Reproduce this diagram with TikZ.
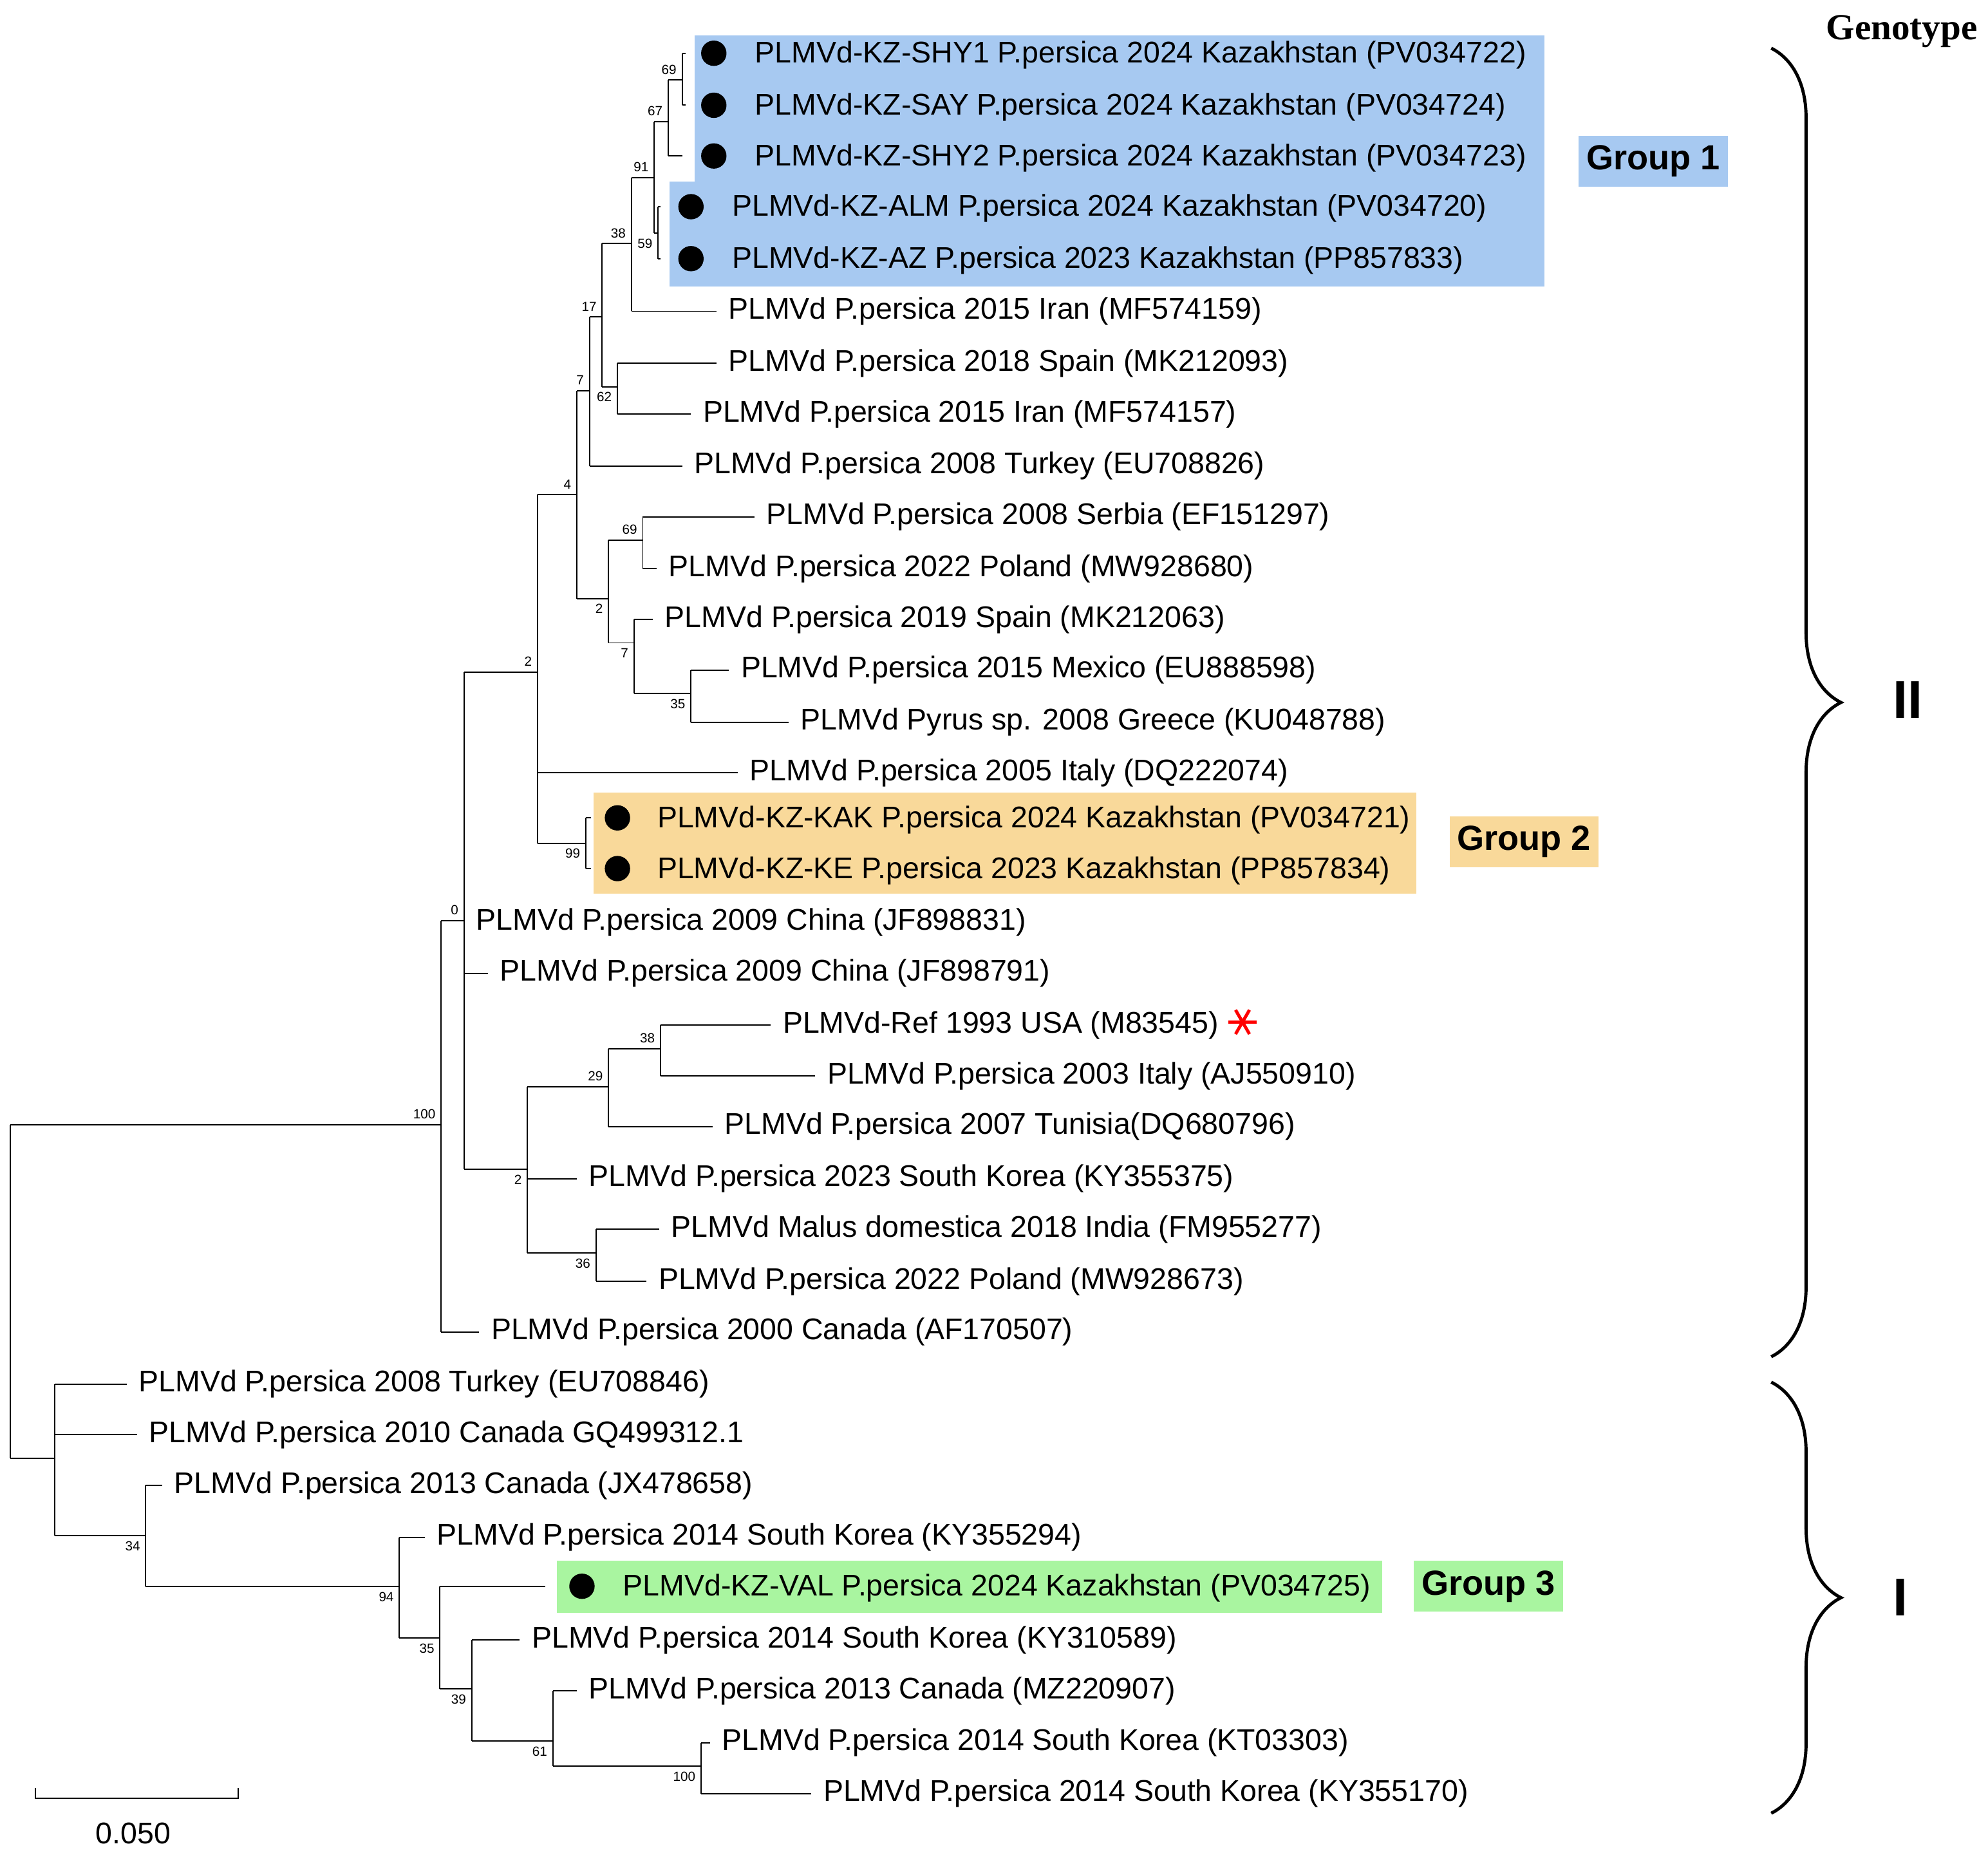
\documentclass[tikz,border=0pt]{standalone}
\usepackage{fontspec}
\setmainfont{Liberation Sans}
\newfontfamily\serifbold{Liberation Serif}
\usetikzlibrary{decorations.pathreplacing}
\definecolor{gone}{RGB}{167,201,241}
\definecolor{gtwo}{RGB}{249,217,154}
\definecolor{gthree}{RGB}{169,245,160}
\newcommand{\hb}[2]{\draw (#1 |- #2) -- (#2);}
\newcommand{\vb}[3]{\draw (#1 |- #2) -- (#1 |- #3);}
\begin{document}
\begin{tikzpicture}[x=1pt,y=-1pt,line width=1pt,
  leaf/.style={anchor=west,inner xsep=9pt,inner ysep=0pt,yshift=-1.5pt,font=\fontsize{23.6}{24}\selectfont},
  txt/.style={anchor=west,inner sep=0pt,yshift=-1.5pt,font=\fontsize{23.6}{24}\selectfont},
  dot/.style={circle,fill=black,minimum size=20pt,inner sep=0pt},
  bsa/.style={anchor=south east,inner sep=4pt,font=\fontsize{10.5}{11}\selectfont},
  bsb/.style={anchor=north east,inner sep=4pt,font=\fontsize{10.5}{11}\selectfont},
  grp/.style={font=\fontsize{27.5}{28}\selectfont\bfseries,minimum height=40pt,inner xsep=6pt},
  gbrace/.style={line width=2.5pt,decorate,decoration={brace,amplitude=55pt,aspect=0.5}}]
\useasboundingbox (0,0) rectangle (1568,1461);
% coloured boxes
\fill[gone] (548,28) rectangle (1218,143);
\fill[gone] (528,143) rectangle (1218,226);
\fill[gtwo] (468,625) rectangle (1117,705);
\fill[gthree] (439,1231) rectangle (1090,1272);
\node[grp,fill=gone] (gl1) at (1304,127) {Group 1};
\node[grp,fill=gtwo] (gl2) at (1202,664) {Group 2};
\node[grp,fill=gthree] (gl3) at (1174,1251) {Group 3};
% group leaves
\node[dot] (shy1) at (563,42) {};  \node[txt] (tshy1) at (595,42) {PLMVd-KZ-SHY1 P.persica 2024 Kazakhstan (PV034722)};
\node[dot] (say) at (563,83) {};   \node[txt] (tsay) at (595,83) {PLMVd-KZ-SAY P.persica 2024 Kazakhstan (PV034724)};
\node[dot] (shy2) at (563,123) {}; \node[txt] (tshy2) at (595,123) {PLMVd-KZ-SHY2 P.persica 2024 Kazakhstan (PV034723)};
\node[dot] (alm) at (545,163) {};  \node[txt] (talm) at (577,163) {PLMVd-KZ-ALM P.persica 2024 Kazakhstan (PV034720)};
\node[dot] (az) at (545,204) {};   \node[txt] (taz) at (577,204) {PLMVd-KZ-AZ P.persica 2023 Kazakhstan (PP857833)};
\node[dot] (kak) at (487,645) {};  \node[txt] (tkak) at (518,645) {PLMVd-KZ-KAK P.persica 2024 Kazakhstan (PV034721)};
\node[dot] (ke) at (487,685) {};   \node[txt] (tke) at (518,685) {PLMVd-KZ-KE P.persica 2023 Kazakhstan (PP857834)};
\node[dot] (val) at (459,1251) {}; \node[txt] (tval) at (491,1251) {PLMVd-KZ-VAL P.persica 2024 Kazakhstan (PV034725)};
\coordinate (e1) at (541,42);
\coordinate (e2) at (541,83);
\coordinate (e3) at (538,123);
\coordinate (e4) at (521,163);
\coordinate (e5) at (521,204);
\coordinate (e6) at (466,645);
\coordinate (e7) at (466,685);
\coordinate (e8) at (430,1251);
% other leaves
\node[leaf] (ir1) at (565,244) {PLMVd P.persica 2015 Iran (MF574159)};
\node[leaf] (sp1) at (565,285) {PLMVd P.persica 2018 Spain (MK212093)};
\node[leaf] (ir2) at (545,325) {PLMVd P.persica 2015 Iran (MF574157)};
\node[leaf] (tu1) at (538,366) {PLMVd P.persica 2008 Turkey (EU708826)};
\node[leaf] (se) at (595,406) {PLMVd P.persica 2008 Serbia (EF151297)};
\node[leaf] (po1) at (518,447) {PLMVd P.persica 2022 Poland (MW928680)};
\node[leaf] (sp2) at (515,487) {PLMVd P.persica 2019 Spain (MK212063)};
\node[leaf] (mx) at (575,527) {PLMVd P.persica 2015 Mexico (EU888598)};
\node[leaf] (gr) at (622,568) {PLMVd Pyrus sp. 2008 Greece (KU048788)};
\node[leaf] (it1) at (582,608) {PLMVd P.persica 2005 Italy (DQ222074)};
\node[leaf] (cn1) at (366,726) {PLMVd P.persica 2009 China (JF898831)};
\node[leaf] (cn2) at (385,766) {PLMVd P.persica 2009 China (JF898791)};
\node[leaf] (us) at (608,807) {PLMVd-Ref 1993 USA (M83545)};
\node[leaf] (it2) at (643,847) {PLMVd P.persica 2003 Italy (AJ550910)};
\node[leaf] (tn) at (562,887) {PLMVd P.persica 2007 Tunisia(DQ680796)};
\node[leaf] (kr1) at (455,928) {PLMVd P.persica 2023 South Korea (KY355375)};
\node[leaf] (ind) at (520,968) {PLMVd Malus domestica 2018 India (FM955277)};
\node[leaf] (po2) at (510,1009) {PLMVd P.persica 2022 Poland (MW928673)};
\node[leaf] (ca1) at (378,1049) {PLMVd P.persica 2000 Canada (AF170507)};
\node[leaf] (tu2) at (100,1090) {PLMVd P.persica 2008 Turkey (EU708846)};
\node[leaf] (ca2) at (108,1130) {PLMVd P.persica 2010 Canada GQ499312.1};
\node[leaf] (ca3) at (128,1170) {PLMVd P.persica 2013 Canada (JX478658)};
\node[leaf] (kr2) at (335,1211) {PLMVd P.persica 2014 South Korea (KY355294)};
\node[leaf] (kr3) at (410,1292) {PLMVd P.persica 2014 South Korea (KY310589)};
\node[leaf] (ca4) at (455,1332) {PLMVd P.persica 2013 Canada (MZ220907)};
\node[leaf] (kr4) at (560,1373) {PLMVd P.persica 2014 South Korea (KT03303)};
\node[leaf] (kr5) at (640,1413) {PLMVd P.persica 2014 South Korea (KY355170)};
% internal nodes
\coordinate (N) at (538,63);  \coordinate (L) at (527,96);  \coordinate (M) at (519,184);
\coordinate (K) at (516,140); \coordinate (I) at (498,192); \coordinate (J) at (487,305);
\coordinate (H) at (475,250); \coordinate (F) at (465,308); \coordinate (P) at (507,426);
\coordinate (S) at (545,547); \coordinate (Q) at (500,507); \coordinate (G) at (480,472);
\coordinate (E) at (455,390); \coordinate (GK) at (462,665); \coordinate (C) at (424,530);
\coordinate (V) at (521,827); \coordinate (T) at (480,857); \coordinate (U) at (470,988);
\coordinate (D) at (416,922); \coordinate (B) at (366,726); \coordinate (A) at (348,887);
\coordinate (AC) at (553,1393); \coordinate (AB) at (436,1373); \coordinate (AA) at (372,1332);
\coordinate (Z) at (347,1292); \coordinate (Y) at (315,1251); \coordinate (X) at (115,1211);
\coordinate (W) at (43,1150); \coordinate (R) at (8,1019);
% branches
\vb{N}{e1}{e2} \hb{N}{e1} \hb{N}{e2}
\vb{L}{N}{e3} \hb{L}{N} \hb{L}{e3}
\vb{M}{e4}{e5} \hb{M}{e4} \hb{M}{e5}
\vb{K}{L}{M} \hb{K}{L} \hb{K}{M}
\vb{I}{K}{ir1.west} \hb{I}{K} \hb{I}{ir1.west}
\vb{J}{sp1.west}{ir2.west} \hb{J}{sp1.west} \hb{J}{ir2.west}
\vb{H}{I}{J} \hb{H}{I} \hb{H}{J}
\vb{F}{H}{tu1.west} \hb{F}{H} \hb{F}{tu1.west}
\vb{P}{se.west}{po1.west} \hb{P}{se.west} \hb{P}{po1.west}
\vb{S}{mx.west}{gr.west} \hb{S}{mx.west} \hb{S}{gr.west}
\vb{Q}{sp2.west}{S} \hb{Q}{sp2.west} \hb{Q}{S}
\vb{G}{P}{Q} \hb{G}{P} \hb{G}{Q}
\vb{E}{F}{G} \hb{E}{F} \hb{E}{G}
\vb{GK}{e6}{e7} \hb{GK}{e6} \hb{GK}{e7}
\vb{C}{E}{GK} \hb{C}{E} \hb{C}{it1.west} \hb{C}{GK}
\vb{V}{us.west}{it2.west} \hb{V}{us.west} \hb{V}{it2.west}
\vb{T}{V}{tn.west} \hb{T}{V} \hb{T}{tn.west}
\vb{U}{ind.west}{po2.west} \hb{U}{ind.west} \hb{U}{po2.west}
\vb{D}{T}{U} \hb{D}{T} \hb{D}{kr1.west} \hb{D}{U}
\vb{B}{C}{D} \hb{B}{C} \hb{B}{cn2.west} \hb{B}{D}
\vb{A}{B}{ca1.west} \hb{A}{B} \hb{A}{ca1.west}
\vb{AC}{kr4.west}{kr5.west} \hb{AC}{kr4.west} \hb{AC}{kr5.west}
\vb{AB}{ca4.west}{AC} \hb{AB}{ca4.west} \hb{AB}{AC}
\vb{AA}{kr3.west}{AB} \hb{AA}{kr3.west} \hb{AA}{AB}
\vb{Z}{e8}{AA} \hb{Z}{e8} \hb{Z}{AA}
\vb{Y}{kr2.west}{Z} \hb{Y}{kr2.west} \hb{Y}{Z}
\vb{X}{ca3.west}{Y} \hb{X}{ca3.west} \hb{X}{Y}
\vb{W}{tu2.west}{X} \hb{W}{tu2.west} \hb{W}{ca2.west} \hb{W}{X}
\vb{R}{A}{W} \hb{R}{A} \hb{R}{W}
% bootstrap values
\node[bsa] at (N) {69};  \node[bsa] at (L) {67};  \node[bsa] at (K) {91};
\node[bsa] at (I) {38};  \node[bsa] at (H) {17};  \node[bsa] at (F) {7};
\node[bsa] at (E) {4};   \node[bsa] at (P) {69};  \node[bsa] at (C) {2};
\node[bsa] at (B) {0};   \node[bsa] at (A) {100}; \node[bsa] at (V) {38};
\node[bsa] at (T) {29};
\node[bsb] at (M) {59};  \node[bsb] at (J) {62};  \node[bsb] at (G) {2};
\node[bsb] at (Q) {7};   \node[bsb] at (S) {35};  \node[bsb] at (GK) {99};
\node[bsb] at (D) {2};   \node[bsb] at (U) {36};  \node[bsb] at (X) {34};
\node[bsb] at (Y) {94};  \node[bsb] at (Z) {35};  \node[bsb] at (AA) {39};
\node[bsb] at (AB) {61}; \node[bsb] at (AC) {100};
% reference marker
\foreach \a in {0,60,120} \draw[red,line width=2.5pt] (980,806) ++(\a:11) -- ++(\a+180:22);
% scale bar
\draw (28,1410) -- (28,1418) -- (188,1418) -- (188,1410);
\node[font=\fontsize{23.6}{24}\selectfont] (sc) at (105,1446) {0.050};
% genotype braces
\node[font=\serifbold\fontsize{29}{30}\selectfont\bfseries] (gt) at (1500,25) {Genotype};
\draw[gbrace] (1397,38) -- (1397,1070);
\draw[gbrace] (1397,1090) -- (1397,1430);
\node[font=\fontsize{42}{42}\selectfont\bfseries] (g2) at (1505,552) {II};
\node[font=\fontsize{42}{42}\selectfont\bfseries] (g1) at (1499,1260) {I};
\end{tikzpicture}
\end{document}
